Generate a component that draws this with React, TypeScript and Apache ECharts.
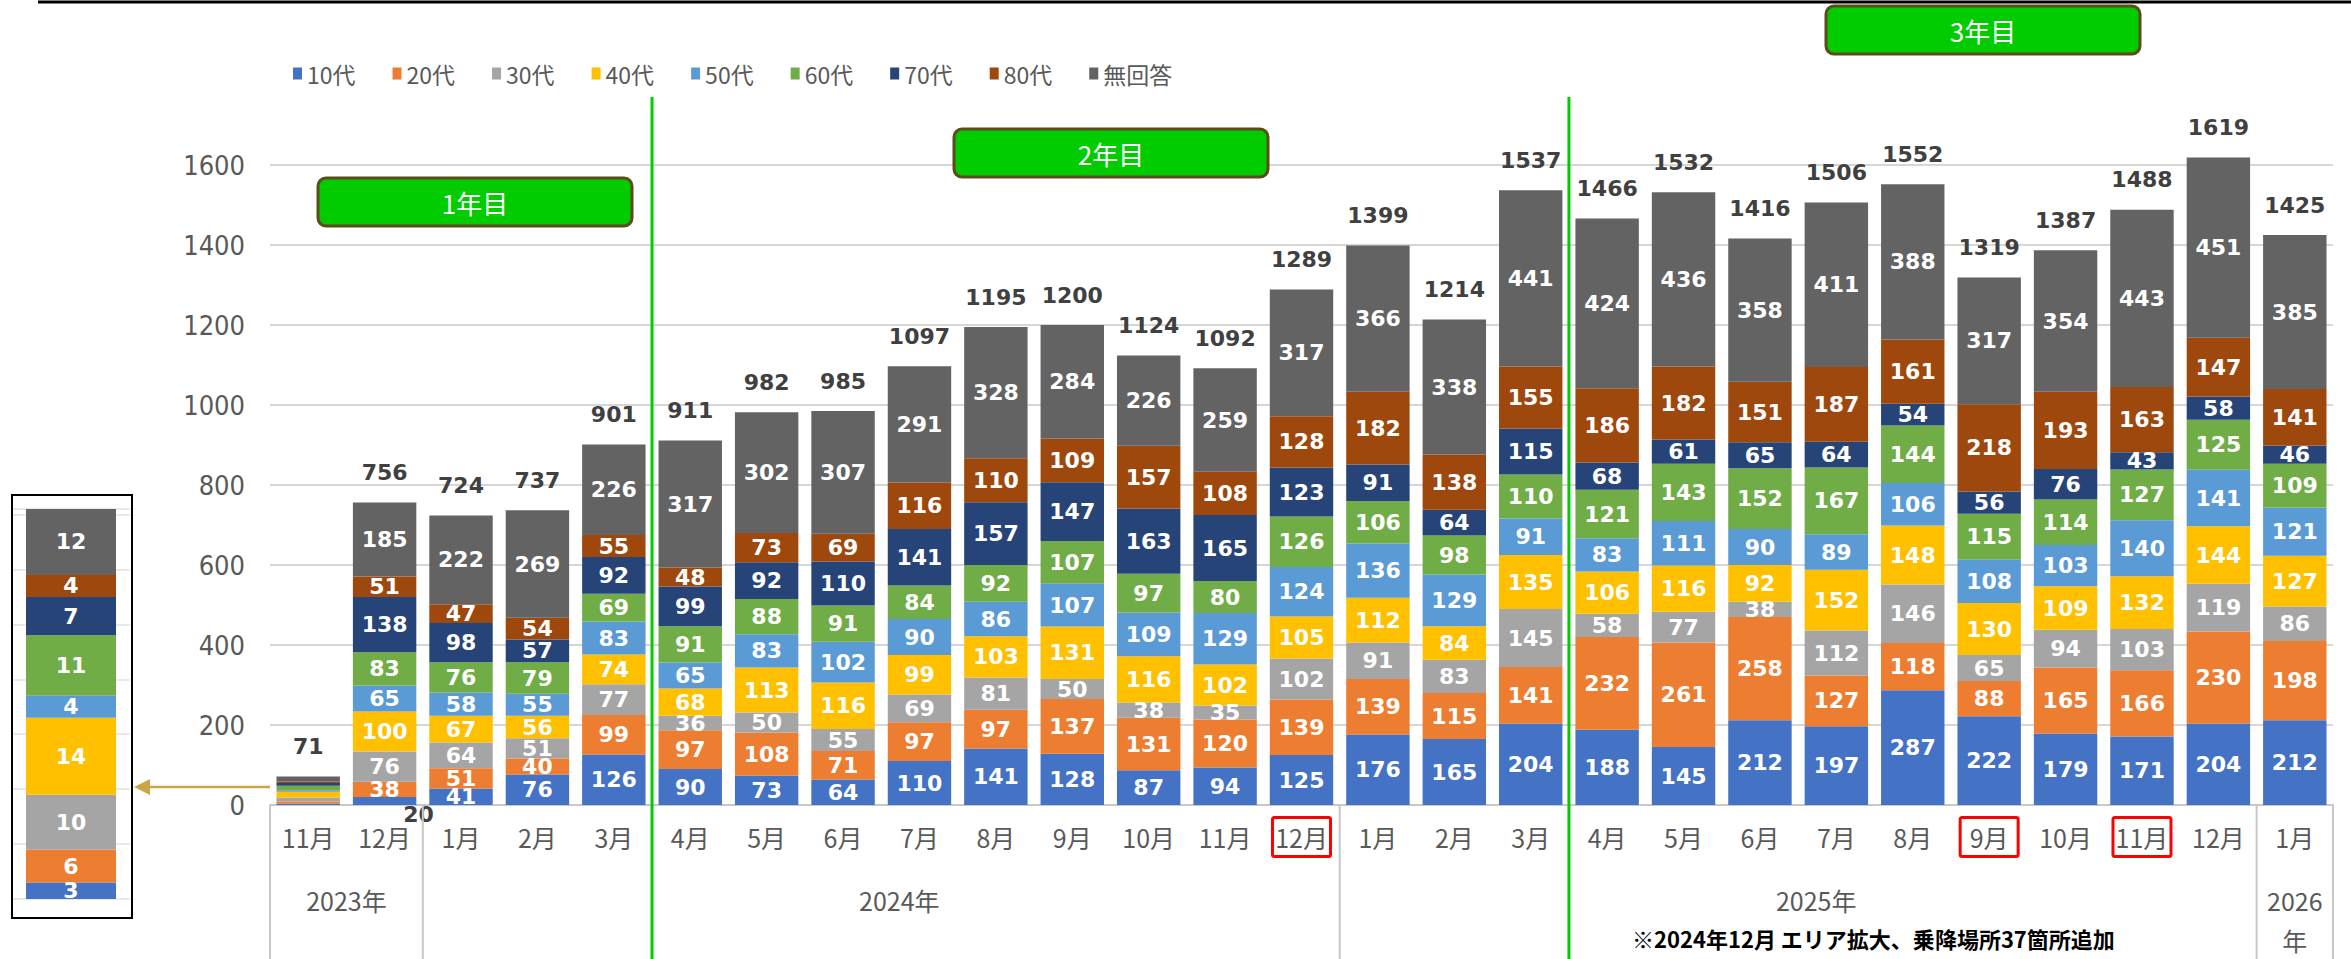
import React, { useEffect, useRef } from 'react';
import * as echarts from 'echarts';

// ---- data ----
const categories = [
  '2023-11', '2023-12',
  '2024-01', '2024-02', '2024-03', '2024-04', '2024-05', '2024-06', '2024-07', '2024-08', '2024-09', '2024-10', '2024-11', '2024-12',
  '2025-01', '2025-02', '2025-03', '2025-04', '2025-05', '2025-06', '2025-07', '2025-08', '2025-09', '2025-10', '2025-11', '2025-12',
  '2026-01',
];
const seriesNames = ['10代', '20代', '30代', '40代', '50代', '60代', '70代', '80代', '無回答'];
const age10 = [3, 20, 41, 76, 126, 90, 73, 64, 110, 141, 128, 87, 94, 125, 176, 165, 204, 188, 145, 212, 197, 287, 222, 179, 171, 204, 212];
const age20 = [6, 38, 51, 40, 99, 97, 108, 71, 97, 97, 137, 131, 120, 139, 139, 115, 141, 232, 261, 258, 127, 118, 88, 165, 166, 230, 198];
const age30 = [10, 76, 64, 51, 77, 36, 50, 55, 69, 81, 50, 38, 35, 102, 91, 83, 145, 58, 77, 38, 112, 146, 65, 94, 103, 119, 86];
const age40 = [14, 100, 67, 56, 74, 68, 113, 116, 99, 103, 131, 116, 102, 105, 112, 84, 135, 106, 116, 92, 152, 148, 130, 109, 132, 144, 127];
const age50 = [4, 65, 58, 55, 83, 65, 83, 102, 90, 86, 107, 109, 129, 124, 136, 129, 91, 83, 111, 90, 89, 106, 108, 103, 140, 141, 121];
const age60 = [11, 83, 76, 79, 69, 91, 88, 91, 84, 92, 107, 97, 80, 126, 106, 98, 110, 121, 143, 152, 167, 144, 115, 114, 127, 125, 109];
const age70 = [7, 138, 98, 57, 92, 99, 92, 110, 141, 157, 147, 163, 165, 123, 91, 64, 115, 68, 61, 65, 64, 54, 56, 76, 43, 58, 46];
const age80 = [4, 51, 47, 54, 55, 48, 73, 69, 116, 110, 109, 157, 108, 128, 182, 138, 155, 186, 182, 151, 187, 161, 218, 193, 163, 147, 141];
const noAnswer = [12, 185, 222, 269, 226, 317, 302, 307, 291, 328, 284, 226, 259, 317, 366, 338, 441, 424, 436, 358, 411, 388, 317, 354, 443, 451, 385];
const totals = [71, 756, 724, 737, 901, 911, 982, 985, 1097, 1195, 1200, 1124, 1092, 1289, 1399, 1214, 1537, 1466, 1532, 1416, 1506, 1552, 1319, 1387, 1488, 1619, 1425];
const yTicks = [0, 200, 400, 600, 800, 1000, 1200, 1400, 1600];
const highlightedMonths = ['2024-12', '2025-09', '2025-11'];
const insetCategory = '2023-11';
const belowLabelCategory = '2023-12';
const fiscalLabels = ['1年目', '2年目', '3年目'];
const noteText = '※2024年12月 エリア拡大、乗降場所37箇所追加';

const colors = ['#4472C4', '#ED7D31', '#A5A5A5', '#FFC000', '#5B9BD5', '#70AD47', '#264478', '#9E480E', '#636363'];

const W = 2351;
const H = 959;
const numFont = '"DejaVu Sans", Verdana, sans-serif';
const axisNumFont = '"DejaVu Sans Condensed", "DejaVu Sans", sans-serif';
const jpFont = '"Noto Sans CJK JP", "Noto Sans", sans-serif';

export default function App() {
  const ref = useRef<HTMLDivElement>(null);

  useEffect(() => {
    document.body.style.margin = '0';
    const el = ref.current;
    if (!el) return;
    const chart = echarts.init(el, null, { renderer: 'svg' });
    const seriesData = [age10, age20, age30, age40, age50, age60, age70, age80, noAnswer];
    const insetIdx = categories.indexOf(insetCategory);
    const belowIdx = categories.indexOf(belowLabelCategory);

    const segLabel = {
      show: true,
      position: 'inside',
      color: '#FFFFFF',
      fontFamily: numFont,
      fontWeight: 'bold',
      fontSize: 22,
    };

    const mainSeries: any[] = seriesData.map((arr, s) => ({
      name: seriesNames[s],
      type: 'bar',
      stack: 'main',
      xAxisIndex: 0,
      yAxisIndex: 0,
      barCategoryGap: '17%',
      clip: false,
      itemStyle: { color: colors[s] },
      label: segLabel,
      data: arr.map((v, i) => {
        if (i === insetIdx) return { value: v, label: { show: false } };
        if (s === 0 && i === belowIdx)
          return { value: v, label: { position: 'bottom', distance: -2, offset: [34, 0], color: '#404040' } };
        return v;
      }),
    }));

    const totalSeries = {
      name: 'total',
      type: 'bar',
      stack: 'main',
      xAxisIndex: 0,
      yAxisIndex: 0,
      barCategoryGap: '17%',
      clip: false,
      silent: true,
      itemStyle: { color: 'transparent' },
      label: {
        show: true,
        position: 'top',
        distance: 19,
        color: '#404040',
        fontFamily: numFont,
        fontWeight: 'bold',
        fontSize: 22,
        formatter: (p: any) => String(totals[p.dataIndex]),
      },
      data: totals.map(() => 0),
    };

    const insetSeries: any[] = seriesData.map((arr, s) => ({
      name: seriesNames[s],
      type: 'bar',
      stack: 'inset',
      xAxisIndex: 1,
      yAxisIndex: 1,
      barWidth: 90,
      itemStyle: { color: colors[s] },
      label: { ...segLabel, fontSize: 22 },
      data: [arr[insetIdx]],
    }));

    const monthLabel = (c: string) => String(Number(c.slice(5))) + '月';
    const richBase = {
      fontSize: 25,
      fontFamily: jpFont,
      color: '#595959',
      width: 54,
      align: 'center',
      lineHeight: 28,
      padding: [7, 2, 7, 2],
      borderWidth: 3,
    };

    chart.setOption({
      animation: false,
      backgroundColor: '#FFFFFF',
      legend: {
        data: seriesNames,
        left: 293,
        top: 62,
        padding: 0,
        icon: 'rect',
        itemWidth: 9,
        itemHeight: 12,
        itemGap: 37,
        textStyle: { fontSize: 23, color: '#595959', fontFamily: jpFont },
      },
      grid: [
        { left: 270, right: 18, top: 165, bottom: H - 805, outerBoundsMode: 'none', containLabel: false },
        { left: 12, top: 509, width: 118, height: 390, outerBoundsMode: 'none', containLabel: false },
      ],
      xAxis: [
        {
          type: 'category',
          gridIndex: 0,
          data: categories,
          axisLine: { show: true, lineStyle: { color: '#C8C8C8', width: 2 } },
          axisTick: { show: false },
          splitLine: { show: false },
          axisLabel: {
            interval: 0,
            margin: 18,
            formatter: (v: string) =>
              highlightedMonths.includes(v) ? `{h|${monthLabel(v)}}` : `{n|${monthLabel(v)}}`,
            rich: {
              n: { ...richBase, borderColor: 'transparent' },
              h: { ...richBase, borderColor: '#FF0000', borderRadius: 2 },
            },
          },
        },
        {
          type: 'category',
          gridIndex: 1,
          data: [insetCategory],
          show: false,
        },
      ],
      yAxis: [
        {
          type: 'value',
          gridIndex: 0,
          min: yTicks[0],
          max: yTicks[yTicks.length - 1],
          interval: yTicks[1] - yTicks[0],
          axisLine: { show: false },
          axisTick: { show: false },
          splitLine: { show: true, lineStyle: { color: '#D6D6D6', width: 2 } },
          axisLabel: {
            margin: 25,
            fontSize: 27,
            color: '#595959',
            fontFamily: axisNumFont,
            formatter: (v: number) => String(v),
          },
        },
        {
          type: 'value',
          gridIndex: 1,
          min: 0,
          max: totals[insetIdx],
          interval: 10,
          axisLine: { show: false },
          axisTick: { show: false },
          axisLabel: { show: false },
          splitLine: { show: true, lineStyle: { color: '#E2E2E2', width: 1.5 } },
        },
      ],
      series: [...mainSeries, totalSeries, ...insetSeries],
    });

    // ---- annotations positioned from the chart's own scales ----
    const xs = categories.map((_, i) => chart.convertToPixel({ xAxisIndex: 0 }, i) as number);
    const step = xs[1] - xs[0];
    const y0 = chart.convertToPixel({ yAxisIndex: 0 }, 0) as number;

    const groups: { year: string; start: number; end: number }[] = [];
    categories.forEach((c, i) => {
      const yr = c.slice(0, 4);
      const g = groups[groups.length - 1];
      if (!g || g.year !== yr) groups.push({ year: yr, start: i, end: i });
      else g.end = i;
    });

    const elements: any[] = [];
    // top rule
    elements.push({ type: 'line', shape: { x1: 38, y1: 2, x2: W, y2: 2 }, style: { stroke: '#000', lineWidth: 3 }, z: 10 });

    // category box lines
    const boxXs = [xs[0] - step / 2, ...groups.map((g) => xs[g.end] + step / 2)];
    boxXs.forEach((x) =>
      elements.push({ type: 'line', shape: { x1: x, y1: y0, x2: x, y2: H }, style: { stroke: '#C8C8C8', lineWidth: 2 }, z: 5 })
    );

    // year labels
    groups.forEach((g) => {
      const single = g.start === g.end;
      const long = g.end - g.start > 2;
      const cx = (xs[g.start] + xs[g.end]) / 2 + (long ? 18 : 0);
      elements.push({
        type: 'text',
        x: cx,
        y: single ? 880 : 900,
        style: {
          text: single ? `${g.year}\n年` : `${g.year}年`,
          fill: '#595959',
          fontSize: 25,
          fontFamily: jpFont,
          lineHeight: 40,
          align: 'center',
          textAlign: 'center',
          verticalAlign: single ? 'top' : 'middle',
          textVerticalAlign: single ? 'top' : 'middle',
        },
        z: 6,
      });
    });

    // fiscal-year boundaries (April)
    categories.forEach((c, i) => {
      if (i > 0 && c.slice(5) === '04') {
        const x = (xs[i - 1] + xs[i]) / 2;
        elements.push({ type: 'line', shape: { x1: x, y1: 97, x2: x, y2: H }, style: { stroke: '#00CC00', lineWidth: 3 }, z: 20 });
      }
    });

    // fiscal-year badges
    const badgeBoxes = [
      { x: 318, y: 178, w: 314, h: 48 },
      { x: 954, y: 129, w: 314, h: 48 },
      { x: 1826, y: 6, w: 314, h: 48 },
    ];
    fiscalLabels.forEach((t, k) => {
      const b = badgeBoxes[k];
      elements.push({
        type: 'group',
        z: 30,
        children: [
          { type: 'rect', shape: { x: b.x, y: b.y, width: b.w, height: b.h, r: 8 }, style: { fill: '#00CC00', stroke: '#5E4B1C', lineWidth: 3 } },
          {
            type: 'text',
            x: b.x + b.w / 2,
            y: b.y + b.h / 2,
            style: {
              text: t, fill: '#FFFFFF', fontSize: 26, fontFamily: jpFont,
              align: 'center', textAlign: 'center', verticalAlign: 'middle', textVerticalAlign: 'middle',
            },
          },
        ],
      });
    });

    // inset frame
    elements.push({ type: 'rect', shape: { x: 12, y: 495, width: 120, height: 423 }, style: { fill: 'none', stroke: '#000', lineWidth: 2 }, z: 10 });

    // arrow from inset bar to inset
    const arrowY = 787;
    elements.push({ type: 'line', shape: { x1: xs[insetIdx] - step / 2, y1: arrowY, x2: 146, y2: arrowY }, style: { stroke: '#C9A646', lineWidth: 2.5 }, z: 10 });
    elements.push({ type: 'polygon', shape: { points: [[134, arrowY], [150, arrowY - 8], [150, arrowY + 8]] }, style: { fill: '#C9A646' }, z: 10 });

    // note
    elements.push({
      type: 'text',
      x: 1632,
      y: 938,
      style: {
        text: noteText, fill: '#000', fontSize: 22, fontWeight: 'bold', fontFamily: jpFont,
        align: 'left', textAlign: 'left', verticalAlign: 'middle', textVerticalAlign: 'middle',
      },
      z: 10,
    });

    chart.setOption({ graphic: { elements } });

    return () => {
      chart.dispose();
    };
  }, []);

  return <div ref={ref} style={{ position: 'absolute', left: 0, top: 0, width: W, height: H }} />;
}
